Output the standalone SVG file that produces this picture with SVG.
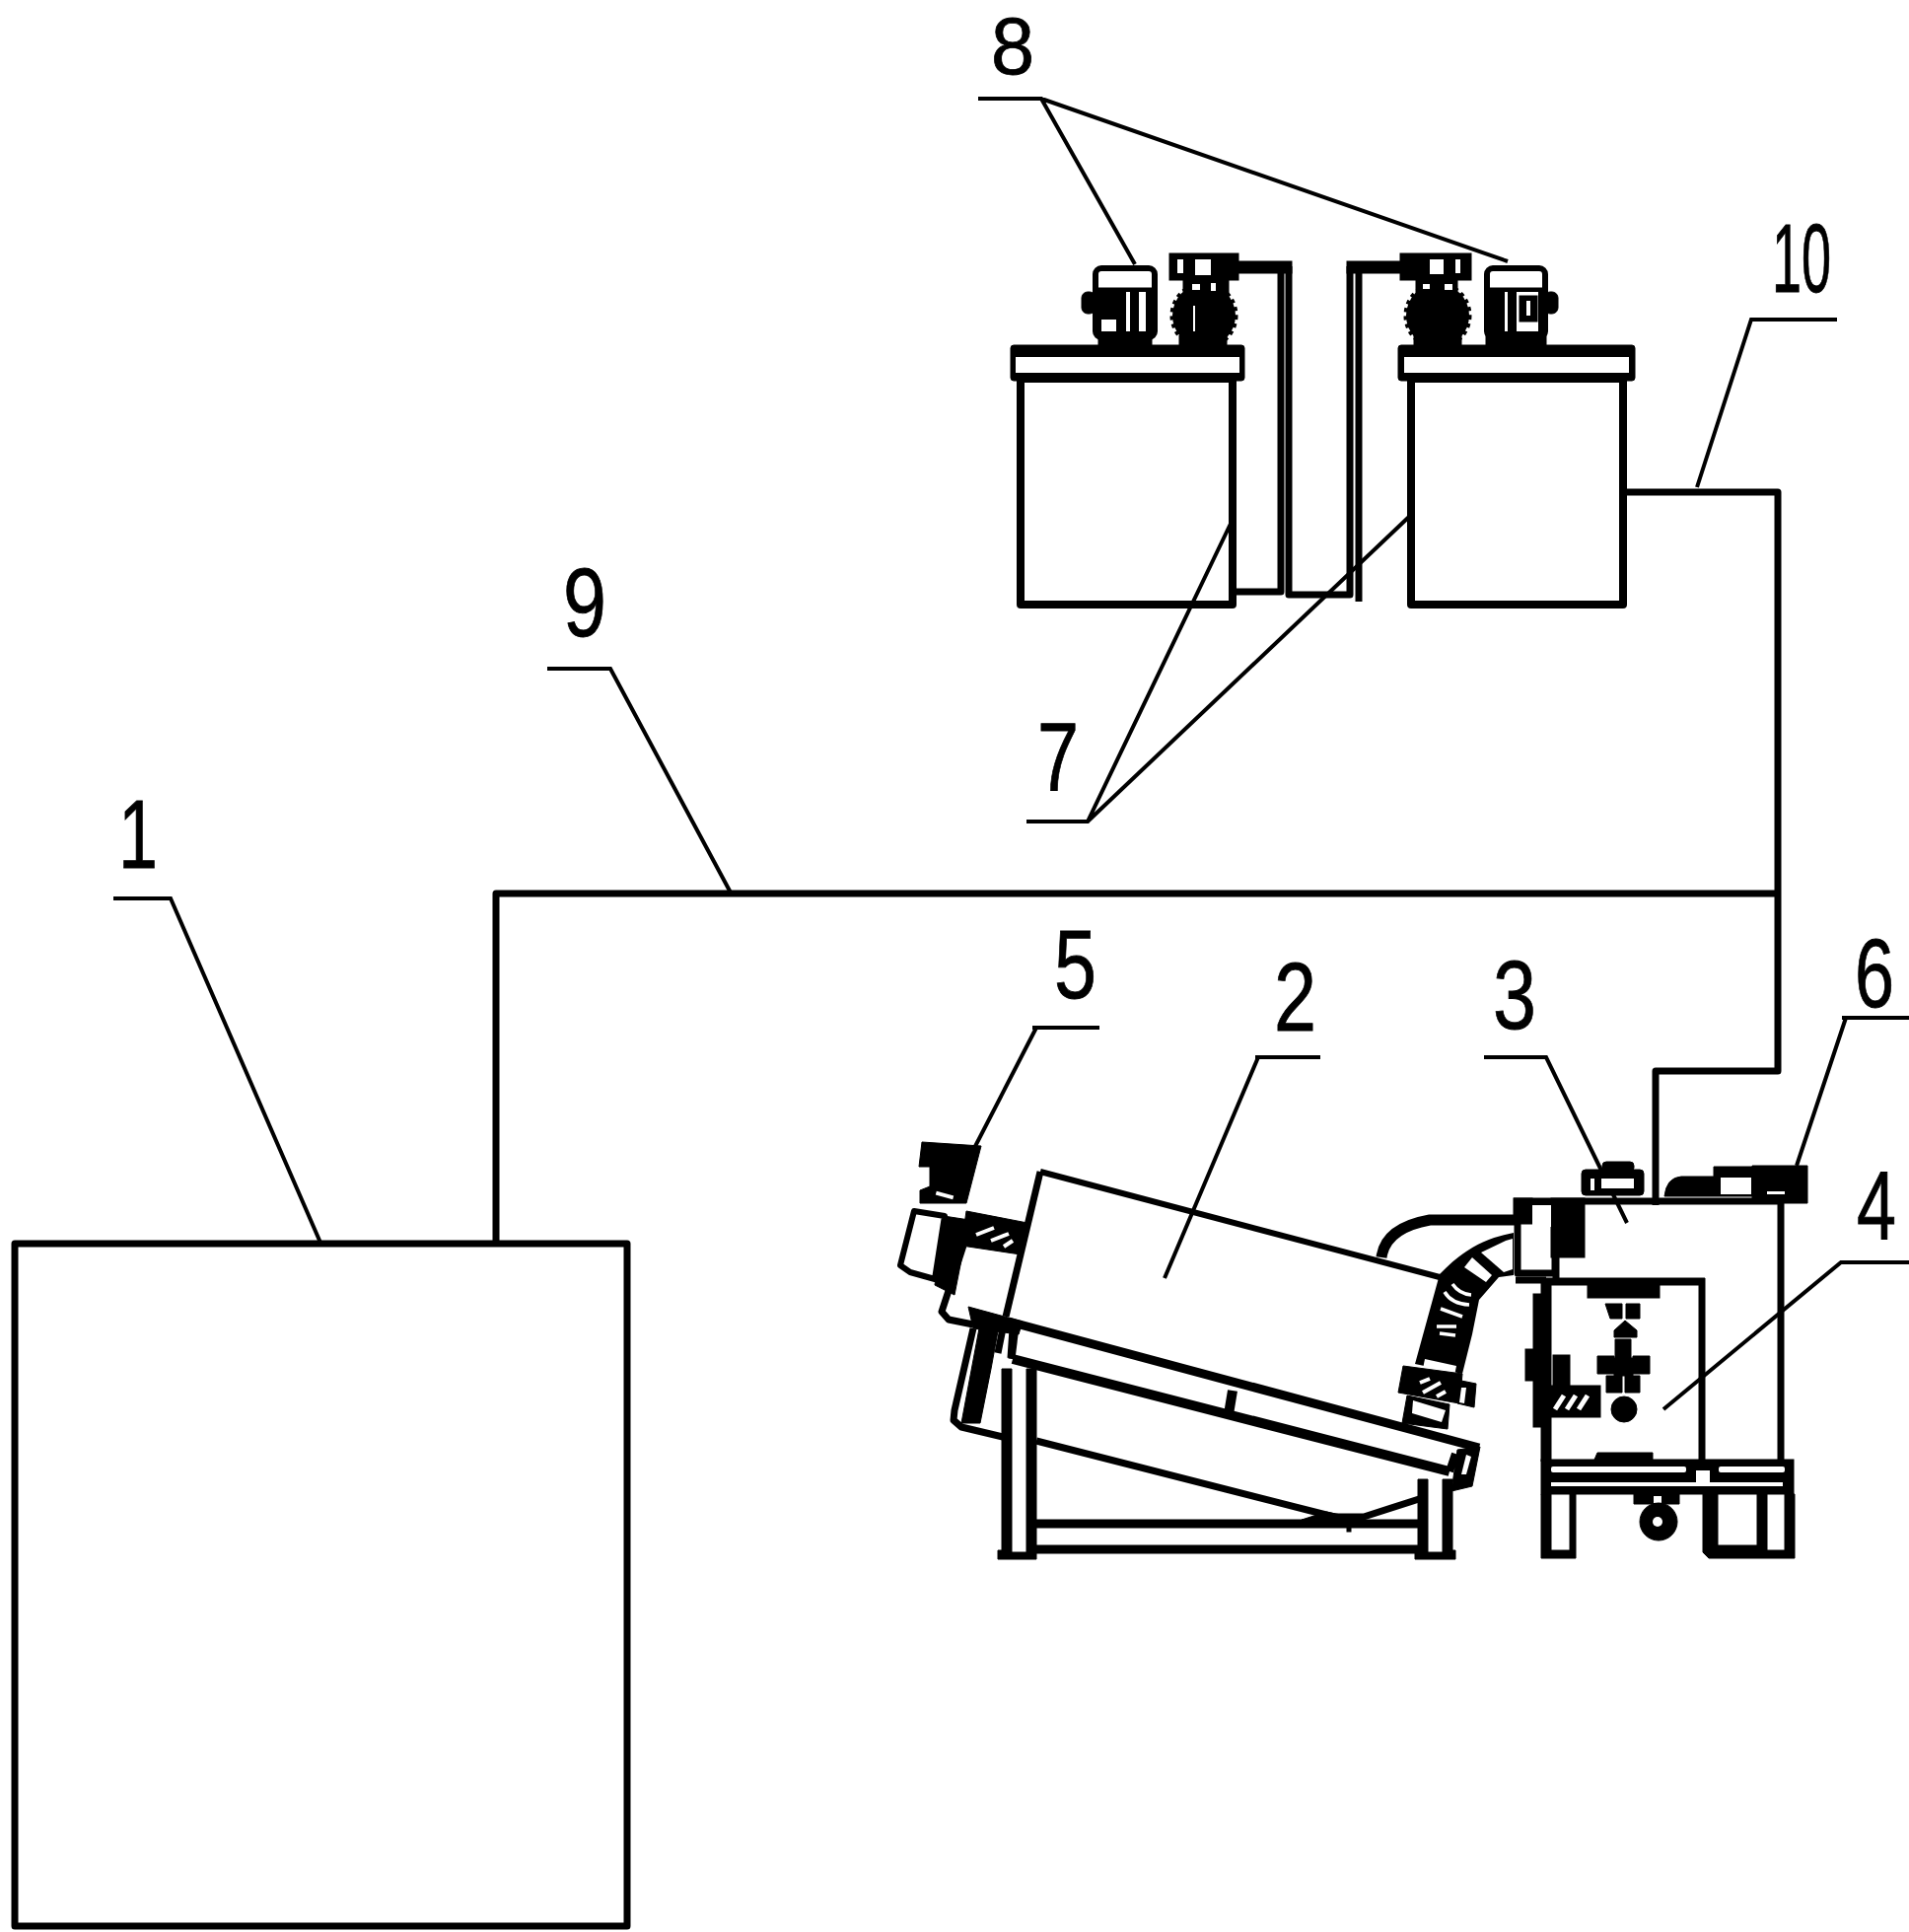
<svg xmlns="http://www.w3.org/2000/svg" width="1936" height="1959" viewBox="0 0 1936 1959">
<style>
.s{fill:none;stroke:#000;stroke-width:7;stroke-linejoin:round}
.w{fill:#fff;stroke:#000;stroke-width:6;stroke-linejoin:round}
.t{fill:none;stroke:#000;stroke-width:4}
.b{fill:#000;stroke:#000;stroke-width:1}
.h{fill:#fff;stroke:none}
.hl{stroke:#fff;stroke-width:4;fill:none}
.g{fill:#000;stroke:#000;stroke-width:5;stroke-dasharray:4 4}
.d{font-family:"Liberation Sans",Arial,sans-serif;font-size:98px;fill:#000;stroke:#000;stroke-width:.8}
</style>
<rect width="1936" height="1959" fill="#fff"/>
<g id="connectors">
<path class="s" d="M503 1261V906H1803"/>
<path class="s" d="M1650 499H1803V1086H1679V1222"/>
<path class="s" d="M1249 600H1299V272"/>
<path class="s" d="M1307 270V603H1369V270"/>
<path class="s" d="M1378 272V610"/>
<rect class="b" x="1250" y="265" width="60" height="12"/>
<rect class="b" x="1366" y="265" width="60" height="12"/>
</g>
<g id="leaders">
<path class="t" d="M115 911H173L325 1260"/>
<path class="t" d="M555 678H619L742 907"/>
<path class="t" d="M1041 833H1103L1248 531M1103 833L1430 523"/>
<path class="t" d="M992 100H1056L1151 268M1056 100L1529 265"/>
<path class="t" d="M1863 324H1776L1721 494"/>
<path class="t" d="M1047 1042H1115M1051 1042L984 1172"/>
<path class="t" d="M1273 1072H1339M1276 1072L1181 1296"/>
<path class="t" d="M1505 1072H1568L1650 1240"/>
<path class="t" d="M1868 1032H1936M1872 1032L1822 1182"/>
<path class="t" d="M1936 1280H1867L1687 1429"/>
</g>
<g id="tank-1"><rect class="s" x="15" y="1261" width="621" height="692"/></g>
<g id="dosing-tank-left">
<rect class="s" x="1035" y="384" width="215" height="229" style="stroke-width:8"/>
<rect class="b" x="1025" y="350" width="237" height="36" rx="3"/>
<rect class="h" x="1030" y="362" width="227" height="16"/>
<rect class="w" x="1111" y="272" width="60" height="70" rx="6"/>
<rect class="b" x="1114" y="292" width="54" height="58"/>
<rect class="h" x="1117" y="324" width="15" height="12"/><rect class="h" x="1142" y="296" width="4" height="40"/><rect class="h" x="1155" y="296" width="7" height="40"/>
<rect class="h" x="1115" y="276" width="48" height="15"/>
<rect class="b" x="1097" y="296" width="14" height="22" rx="6"/>
<rect class="b" x="1186" y="257" width="70" height="27"/>
<rect class="h" x="1194" y="263" width="6" height="14"/><rect class="h" x="1212" y="263" width="16" height="16"/>
<circle class="g" cx="1221" cy="320" r="32"/>
<path class="b" d="M1200 284H1246V300H1200ZM1196 340H1244V352H1196Z"/>
<rect class="h" x="1209" y="288" width="8" height="6"/><rect class="h" x="1228" y="287" width="5" height="8"/><rect class="h" x="1210" y="310" width="2" height="26"/>
</g>
<g id="dosing-tank-right">
<rect class="s" x="1431" y="384" width="215" height="229" style="stroke-width:8"/>
<rect class="b" x="1418" y="350" width="240" height="36" rx="3"/>
<rect class="h" x="1424" y="362" width="228" height="16"/>
<rect class="b" x="1420" y="257" width="72" height="27"/>
<rect class="h" x="1450" y="263" width="14" height="15"/><rect class="h" x="1476" y="263" width="5" height="14"/>
<circle class="g" cx="1458" cy="320" r="32"/>
<path class="b" d="M1436 284H1478V300H1436ZM1434 340H1482V352H1434Z"/>
<rect class="h" x="1443" y="288" width="7" height="5"/><rect class="h" x="1465" y="288" width="8" height="6"/>
<rect class="w" x="1508" y="272" width="59" height="70" rx="6"/>
<rect class="b" x="1507" y="292" width="61" height="58"/>
<rect class="h" x="1513" y="276" width="49" height="15"/>
<rect class="h" x="1526" y="296" width="3" height="40"/><rect class="h" x="1538" y="296" width="22" height="40"/>
<rect class="b" x="1541" y="300" width="18" height="26"/><rect class="h" x="1548" y="305" width="4" height="15"/>
<rect class="b" x="1566" y="296" width="14" height="22" rx="6"/>
</g>
<g id="dewatering-machine">
<path class="s" d="M1055 1188L1460 1295" style="stroke-width:6"/>
<path class="s" d="M1055 1188L1020 1335"/>
<path class="s" d="M1023 1340L1500 1468" style="stroke-width:9"/>
<path class="s" d="M1027 1378L1470 1492" style="stroke-width:10"/>
<path class="s" d="M1250 1410L1246 1434" style="stroke-width:10"/>
<path class="s" d="M1030 1345L1026 1378"/>
<path class="s" d="M1476 1474L1470 1492" style="stroke-width:8"/>
<polygon class="b" points="1478,1470 1501,1467 1493,1507 1472,1512"/>
<polygon class="h" points="1487,1475 1492,1477 1487,1495 1482,1495"/>
<path class="s" d="M1051 1461L1353 1538H1383L1439 1520"/>
<polygon class="b" points="1320,1541 1345,1533 1385,1541"/>
<path class="b" d="M1016 1388H1026V1574H1041V1388H1051V1581H1012V1572H1016ZM1438 1500H1448V1574H1463V1500H1473V1572H1476V1581H1435V1572H1438Z"/>
<rect class="b" x="1051" y="1541" width="387" height="8"/>
<rect class="b" x="1051" y="1567" width="387" height="8"/>
<rect class="b" x="1366" y="1549" width="4" height="4"/>
</g>
<g id="sludge-outlet-5">
<polygon class="b" points="935,1158 995,1162 980,1220 933,1220 933,1207 943,1203 943,1183 932,1183"/>
<rect class="h" x="949" y="1210" width="18" height="4" transform="rotate(15 958 1212)"/>
<polygon class="w" points="927,1228 958,1233 948,1297 923,1290 913,1283"/>
<polygon class="b" points="957,1233 983,1237 968,1313 948,1303"/>
<polygon class="b" points="980,1228 1042,1240 1035,1272 975,1263"/>
<path class="hl" d="M990 1252L1008 1245M1005 1258L1023 1251M1018 1264L1027 1258"/>
<path class="s" d="M977 1263L955 1330L962 1338L987 1343"/>
<polygon class="b" points="982,1325 1037,1340 1033,1353 987,1347"/>
<polygon class="b" points="993,1347 1012,1350 1005,1388 994,1443 975,1443"/>
<path class="s" d="M987 1347L968 1430L967 1440L975 1447L1017 1457"/>
<path class="s" d="M1017 1347L1012 1372M1027 1347L1025 1377"/>
</g>
<g id="hose">
<path d="M1540 1237H1450Q1405 1245 1401 1275" fill="none" stroke="#000" stroke-width="11"/>
<path d="M1535 1250C1510 1255 1488 1263 1460 1292L1435 1383L1483 1393L1493 1353L1500 1318L1520 1295L1535 1293Z" fill="#000"/>
<polygon class="h" points="1502,1270 1527,1258 1534,1256 1534,1287 1525,1290"/>
<polygon class="h" points="1485,1285 1493,1275 1513,1293 1507,1300"/>
<path class="hl" d="M1473 1302Q1480 1312 1492 1313M1465 1310Q1472 1322 1490 1323M1461 1327L1483 1335M1457 1345H1477M1460 1352L1476 1354" style="stroke-width:3.5"/>
<polygon class="h" points="1445,1378 1477,1385 1475,1395 1443,1388"/>
<polygon class="b" points="1423,1385 1483,1393 1480,1423 1418,1412"/>
<path class="hl" d="M1440 1402L1450 1398M1443 1412L1461 1402M1457 1416L1466 1411"/>
<polygon class="b" points="1427,1415 1470,1424 1468,1449 1422,1443"/>
<polygon class="h" points="1433,1420 1466,1430 1462,1442 1432,1433"/>
<polygon class="b" points="1482,1400 1497,1403 1495,1427 1478,1423"/>
<polygon class="h" points="1482,1407 1487,1407 1485,1423 1480,1422"/>
</g>
<g id="cabinet-3">
<path class="s" d="M1535 1218H1806V1480"/>
<rect class="w" x="1539" y="1219" width="38" height="72" style="stroke-width:7"/>
<rect class="b" x="1535" y="1215" width="19" height="26"/>
<rect class="b" x="1573" y="1215" width="34" height="60"/>
<rect class="h" x="1554" y="1222" width="19" height="22"/>
<path class="s" d="M1578 1275V1298"/>
<path class="s" d="M1537 1298H1568"/>
<rect class="b" x="1604" y="1186" width="63" height="26" rx="4"/>
<rect class="b" x="1625" y="1178" width="32" height="10" rx="4"/>
<rect class="h" x="1624" y="1195" width="33" height="10"/><rect class="h" x="1613" y="1195" width="4" height="12"/>
<path class="b" d="M1688 1213Q1690 1194 1705 1193H1738V1213ZM1738 1183H1777V1213H1738ZM1777 1182H1833V1220H1777Z"/>
<rect class="h" x="1745" y="1194" width="31" height="17"/>
<rect class="h" x="1792" y="1208" width="18" height="3"/>
<rect class="b" x="1563" y="1480" width="256" height="35"/>
<rect class="h" x="1573" y="1487" width="137" height="6" rx="2"/><rect class="h" x="1743" y="1487" width="67" height="6" rx="2"/>
<rect class="h" x="1573" y="1503" width="235" height="4"/><rect class="h" x="1720" y="1491" width="14" height="12"/>
<path class="b" d="M1563 1515H1573V1572H1592V1515H1598V1580H1563ZM1727 1515H1742V1567H1782V1515H1792V1572H1810V1515H1820V1580H1733L1727 1574Z"/>
<path class="b" d="M1657 1515H1703V1525H1657Z"/>
<rect class="h" x="1677" y="1517" width="8" height="7"/>
<circle class="b" cx="1682" cy="1543" r="19"/><circle class="h" cx="1681" cy="1543" r="5"/>
</g>
<g id="control-box-4">
<path class="b" d="M1563 1296H1729V1482H1723V1303H1573V1482H1563Z"/>
<rect class="b" x="1555" y="1312" width="9" height="135"/><rect class="b" x="1547" y="1368" width="17" height="32"/>
<rect class="b" x="1610" y="1303" width="73" height="13"/>
<path class="b" d="M1620 1473H1676V1480H1617Z"/>
<path class="b" d="M1628 1322H1645V1337H1633ZM1649 1322H1663V1337H1649ZM1637 1349L1648 1339L1660 1349V1356H1637ZM1638 1358H1654V1377H1638ZM1620 1375H1637V1393H1620ZM1656 1375H1673V1393H1656ZM1637 1377H1656V1395H1637ZM1629 1395H1645V1412H1629ZM1648 1395H1663V1412H1648Z"/>
<circle class="b" cx="1647" cy="1429" r="13"/>
<rect class="b" x="1575" y="1374" width="17" height="32"/>
<rect class="b" x="1573" y="1405" width="50" height="32"/>
<path class="hl" style="stroke-width:5" d="M1577 1429L1586 1415M1589 1429L1598 1415M1601 1429L1610 1415"/>
</g>
<g id="labels">
<text class="d" x="1005" y="75" textLength="44" lengthAdjust="spacingAndGlyphs" style="font-size:82px">8</text>
<text class="d" x="1797" y="296" textLength="60" lengthAdjust="spacingAndGlyphs">10</text>
<text class="d" x="571" y="645" textLength="44" lengthAdjust="spacingAndGlyphs">9</text>
<text class="d" x="1052" y="801" textLength="42" lengthAdjust="spacingAndGlyphs">7</text>
<text class="d" x="120" y="880" textLength="40" lengthAdjust="spacingAndGlyphs">1</text>
<text class="d" x="1069" y="1012" textLength="43" lengthAdjust="spacingAndGlyphs">5</text>
<text class="d" x="1292" y="1045" textLength="43" lengthAdjust="spacingAndGlyphs">2</text>
<text class="d" x="1514" y="1043" textLength="44" lengthAdjust="spacingAndGlyphs">3</text>
<text class="d" x="1881" y="1021" textLength="40" lengthAdjust="spacingAndGlyphs">6</text>
<text class="d" x="1883" y="1256" textLength="40" lengthAdjust="spacingAndGlyphs">4</text>
</g>
</svg>
